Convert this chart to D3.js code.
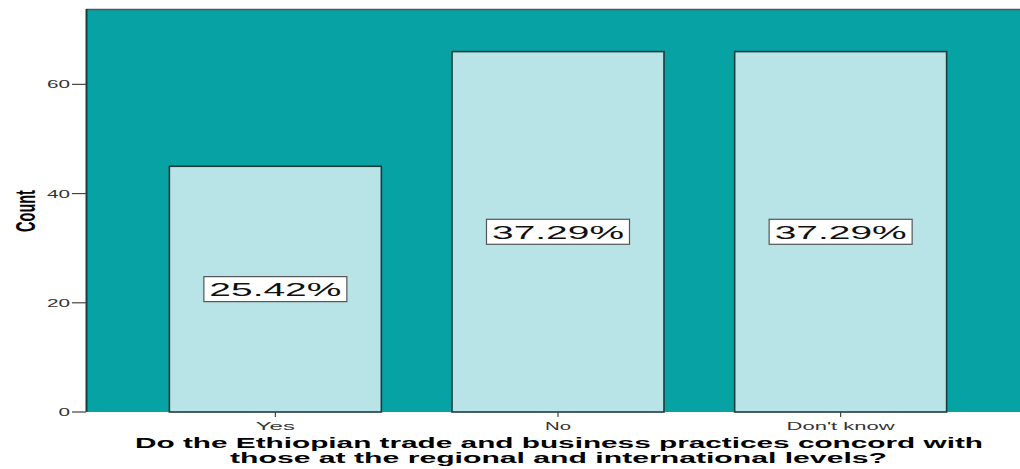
<!DOCTYPE html>
<html>
<head>
<meta charset="utf-8">
<script src="https://cdn.jsdelivr.net/npm/d3@7"></script>
<style>
  html, body { margin: 0; padding: 0; background: #fff; }
  svg { display: block; }
</style>
</head>
<body>
<svg id="chart" width="1020" height="469"></svg>
<script>
// Survey responses
const categories = ["Yes", "No", "Don't know"];
const counts = [45, 66, 66];
const percentLabels = ["25.42%", "37.29%", "37.29%"];
const yTicks = [0, 20, 40, 60];
const xTitleLines = [
  "Do the Ethiopian trade and business practices concord with",
  "those at the regional and international levels?"
];

const svg = d3.select("#chart");
const plot = { left: 86, right: 1030, top: 9, bottom: 412 };

const x = d3.scaleBand()
  .domain(categories)
  .range([plot.left, plot.right])
  .paddingInner(0.25)
  .paddingOuter(0.295);

const y = d3.scaleLinear()
  .domain([0, 73.8])
  .range([plot.bottom, plot.top]);

// plot background
svg.append("rect")
  .attr("x", plot.left).attr("y", plot.top)
  .attr("width", plot.right - plot.left).attr("height", plot.bottom - plot.top)
  .attr("fill", "#07a2a4");
svg.append("line")
  .attr("x1", plot.left).attr("x2", plot.right)
  .attr("y1", plot.top + 0.5).attr("y2", plot.top + 0.5)
  .attr("stroke", "#555").attr("stroke-width", 1.5);
svg.append("line")
  .attr("x1", plot.left + 0.5).attr("x2", plot.left + 0.5)
  .attr("y1", plot.top).attr("y2", plot.bottom)
  .attr("stroke", "#1e3a3a").attr("stroke-width", 2);

// bars
svg.selectAll("rect.bar")
  .data(categories)
  .join("rect")
  .attr("class", "bar")
  .attr("x", d => x(d))
  .attr("y", (d, i) => y(counts[i]))
  .attr("width", x.bandwidth())
  .attr("height", (d, i) => y(0) - y(counts[i]))
  .attr("fill", "#b8e4e7")
  .attr("stroke", "#1d3b3b")
  .attr("stroke-width", 1.6);

// percentage labels in boxes at the middle of each bar
const lab = svg.selectAll("g.lab")
  .data(categories)
  .join("g")
  .attr("class", "lab")
  .attr("transform", (d, i) => `translate(${x(d) + x.bandwidth() / 2},${(y(counts[i]) + y(0)) / 2})`);
lab.append("rect")
  .attr("x", -71.5).attr("y", -12.5)
  .attr("width", 143).attr("height", 25)
  .attr("fill", "#fff")
  .attr("stroke", "#555")
  .attr("stroke-width", 1.2);
lab.append("text")
  .attr("x", -66).attr("y", 7)
  .attr("textLength", 132)
  .attr("lengthAdjust", "spacingAndGlyphs")
  .attr("font-family", "'Liberation Sans', Arial, sans-serif")
  .attr("font-size", 18.5)
  .attr("fill", "#111")
  .text((d, i) => percentLabels[i]);

// y axis
const yAxis = svg.append("g").attr("class", "y-axis");
yAxis.selectAll("line")
  .data(yTicks)
  .join("line")
  .attr("x1", 72).attr("x2", plot.left)
  .attr("y1", d => y(d)).attr("y2", d => y(d))
  .attr("stroke", "#444").attr("stroke-width", 1.2);
yAxis.selectAll("text")
  .data(yTicks)
  .join("text")
  .attr("x", 70)
  .attr("y", d => y(d) + 4)
  .attr("text-anchor", "end")
  .attr("textLength", d => String(d).length * 11.5)
  .attr("lengthAdjust", "spacingAndGlyphs")
  .attr("font-family", "'Liberation Sans', Arial, sans-serif")
  .attr("font-size", 11)
  .attr("fill", "#333")
  .text(d => d);

// y axis title, condensed bold
svg.append("g")
  .attr("transform", "translate(35,211) scale(1.95,1) rotate(-90)")
  .append("text")
  .attr("text-anchor", "middle")
  .attr("font-family", "'Liberation Sans', Arial, sans-serif")
  .attr("font-weight", "bold")
  .attr("font-size", 14.5)
  .attr("fill", "#000")
  .text("Count");

// x axis
const xAxis = svg.append("g").attr("class", "x-axis");
xAxis.selectAll("line")
  .data(categories)
  .join("line")
  .attr("x1", d => x(d) + x.bandwidth() / 2)
  .attr("x2", d => x(d) + x.bandwidth() / 2)
  .attr("y1", plot.bottom).attr("y2", plot.bottom + 5)
  .attr("stroke", "#444").attr("stroke-width", 1.2);
const tickWidths = [39, 26, 108];
xAxis.selectAll("text")
  .data(categories)
  .join("text")
  .attr("x", d => x(d) + x.bandwidth() / 2)
  .attr("y", 429.5)
  .attr("text-anchor", "middle")
  .attr("textLength", (d, i) => tickWidths[i])
  .attr("lengthAdjust", "spacingAndGlyphs")
  .attr("font-family", "'Liberation Sans', Arial, sans-serif")
  .attr("font-size", 11)
  .attr("fill", "#333")
  .text(d => d);

// x axis title
const titleLayout = [
  { x: 135, y: 448, w: 848 },
  { x: 230, y: 462.5, w: 657 }
];
svg.selectAll("text.xtitle")
  .data(xTitleLines)
  .join("text")
  .attr("class", "xtitle")
  .attr("x", (d, i) => titleLayout[i].x)
  .attr("y", (d, i) => titleLayout[i].y)
  .attr("textLength", (d, i) => titleLayout[i].w)
  .attr("lengthAdjust", "spacingAndGlyphs")
  .attr("font-family", "'Liberation Sans', Arial, sans-serif")
  .attr("font-weight", "bold")
  .attr("font-size", 14.5)
  .attr("fill", "#000")
  .text(d => d);
</script>
</body>
</html>
